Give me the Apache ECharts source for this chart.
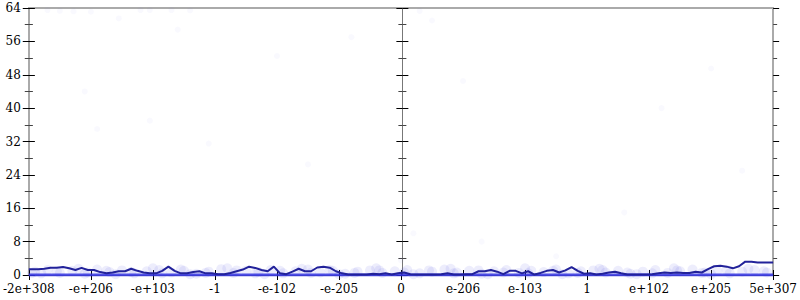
<!DOCTYPE html>
<html>
<head>
<meta charset="utf-8">
<script src="https://cdn.jsdelivr.net/npm/echarts@6/dist/echarts.min.js"></script>
<style>html,body{margin:0;padding:0;background:#fff}#c{width:800px;height:300px}</style>
</head>
<body>
<div id="c"></div>
<script>
// X tick labels (12 equal segments of the symmetric float axis)
const tickLabels = ['-2e+308','-e+206','-e+103','-1','-e-102','-e-205','0','e-206','e-103','1','e+102','e+205','5e+307'];
// Y axis ticks
const yMin = 0, yMax = 64, yStep = 8;
// Line counts per bin (120 bins across the axis)
const binCounts = [
 1.4,1.4,1.5,1.75,1.75,1.9,1.6,1.2,1.7,1.2,
 1.2,0.7,0.4,0.6,0.9,0.9,1.5,1.0,0.6,0.4,
 0.4,1.0,2.0,1.0,0.4,0.4,0.7,0.9,0.4,0.4,
 0.2,0.2,0.5,0.9,1.3,2.0,1.7,1.2,0.9,2.0,
 0.4,0.2,0.8,1.5,0.9,0.9,1.8,2.0,1.75,0.9,
 0.4,0.1,0.1,0.1,0.1,0.3,0.2,0.4,0.1,0.4,
 0.6,0.2,0.1,0.1,0.1,0.1,0.2,0.4,0.1,0.1,
 0.2,0.2,0.9,0.9,1.2,0.8,0.2,1.0,1.0,0.4,
 0.9,0.1,0.5,1.0,1.2,0.6,1.1,1.9,1.0,0.3,
 0.4,0.1,0.3,0.6,0.8,0.4,0.1,0.1,0.1,0.1,
 0.2,0.4,0.6,0.5,0.6,0.5,0.5,0.8,0.6,1.4,
 2.1,2.2,2.0,1.6,2.1,3.2,3.2,3.0,3.0,3.0
];
// Many samples sitting at zero
const zeroRun = [[0,0],[12,0]];
// Faint individual samples near the floor
const lowSamples = [
 [0.1,0.8],[0.3,1.2],[0.5,0.5],[0.7,1.0],[0.9,0.3],[1.1,1.3],[1.3,0.7],[1.5,1.1],[1.7,0.4],[1.9,0.9],
 [2.1,1.2],[2.3,0.6],[2.5,1.0],[2.7,0.3],[2.9,0.8],[3.1,1.4],[3.3,0.5],[3.5,1.0],[3.7,0.7],[3.9,1.2],
 [4.1,0.4],[4.3,0.9],[4.5,1.3],[4.7,0.6],[4.9,1.0],[5.1,0.3],[5.3,0.8],[5.5,1.1],[5.7,0.5],[5.9,0.9],
 [6.1,1.2],[6.3,0.4],[6.5,0.8],[6.7,1.3],[6.9,0.6],[7.1,1.0],[7.3,0.3],[7.5,0.9],[7.7,1.2],[7.9,0.5],
 [8.1,1.0],[8.3,0.7],[8.5,1.3],[8.7,0.4],[8.9,0.9],[9.1,1.1],[9.3,0.6],[9.5,1.0],[9.7,0.3],[9.9,0.8],
 [10.1,1.2],[10.3,0.5],[10.5,0.9],[10.7,1.3],[10.9,0.6],[11.1,1.0],[11.3,0.4],[11.5,0.8],[11.7,1.2],[11.9,0.6],
 [0.2,0.4],[0.8,1.5],[1.4,0.2],[2.0,1.6],[2.6,0.2],[3.2,1.6],[3.8,0.2],[4.4,1.5],[5.0,0.2],[5.6,1.6],
 [6.2,0.2],[6.8,1.5],[7.4,0.2],[8.0,1.6],[8.6,0.2],[9.2,1.5],[9.8,0.2],[10.4,1.6],[11.0,0.2],[11.6,1.5],
 [0.05,0.5],[0.45,0.9],[0.95,0.6],[1.25,1.0],[1.65,0.7],[2.15,0.4],[2.45,1.3],[2.85,0.5],[3.35,1.1],[3.65,0.4],
 [4.05,1.0],[4.55,0.5],[4.85,1.2],[5.25,0.5],[5.65,1.1],[6.05,0.6],[6.45,1.1],[6.85,0.4],[7.25,1.1],[7.65,0.6],
 [8.05,0.4],[8.45,1.0],[8.85,0.5],[9.25,1.2],[9.65,0.6],[10.05,0.4],[10.45,1.1],[10.85,0.5],[11.25,1.2],[11.85,0.9]
];
// Very faint outliers higher up
const highSamples = [
 [0.3,63.5],[0.5,63.3],[0.72,63.2],[1.0,63.1],[1.45,61.5],[1.8,63.5],[1.95,63.5],[2.3,63.5],[2.4,58.8],[2.6,63.4],
 [0.9,44.0],[1.1,35.0],[1.95,37.0],[2.9,31.5],[4.5,26.5],[6.3,63.3],[6.5,61.0],[7.0,46.5],[7.3,8.0],[11.0,49.5],
 [4.0,52.5],[5.2,57.0],[6.2,10.0],[6.0,3.5],[8.5,4.5],[9.6,15.0],[10.2,40.0],[11.5,25.0]
];

const binW = 12 / binCounts.length;
const lineData = binCounts.map((v, i) => [i * binW + binW / 2, v]);
lineData.unshift([0, binCounts[0]]);
lineData.push([12, binCounts[binCounts.length - 1]]);

const font = {fontFamily: 'DejaVu Serif', fontSize: 12, color: '#000'};
const grey = {color: '#aaaaaa', width: 2};

function yAx(opts) {
  return Object.assign({
    type: 'value', min: yMin, max: yMax, interval: yStep, position: 'left',
    splitLine: {show: false},
    axisLine: {show: false},
    axisLabel: {show: false},
    axisTick: {show: true, inside: false, length: 6, lineStyle: {color: '#000', width: 1}},
    minorTick: {show: true, splitNumber: 2, length: 4, lineStyle: {color: '#444', width: 1}},
  }, opts);
}
const inTick = {axisTick: {show: true, inside: true, length: 6, lineStyle: {color: '#000'}}, minorTick: {show: true, splitNumber: 2, length: 4, lineStyle: {color: '#444'}}};

const chart = echarts.init(document.getElementById('c'), null, {renderer: 'svg'});
chart.setOption({
  animation: false,
  textStyle: {fontFamily: 'DejaVu Serif'},
  grid: {left: 27, right: 26, top: 8, bottom: 25, containLabel: false},
  xAxis: [
    {type: 'value', min: 0, max: 12, interval: 1, position: 'bottom',
     splitLine: {show: false},
     axisLine: {show: true, onZero: false, lineStyle: {color: '#888', width: 1}},
     axisTick: {show: true, inside: false, length: 5, lineStyle: {color: '#000'}},
     axisLabel: Object.assign({margin: 8, formatter: v => tickLabels[Math.round(v)]}, font)},
    {type: 'value', min: 0, max: 12, interval: 1, position: 'bottom',
     splitLine: {show: false}, axisLine: {show: false, onZero: false},
     axisTick: {show: true, inside: true, length: 5, lineStyle: {color: '#000'}},
     axisLabel: {show: false}},
    {type: 'value', min: 0, max: 12, interval: 1, position: 'top',
     splitLine: {show: false}, axisLine: {show: true, onZero: false, lineStyle: grey},
     axisTick: {show: false}, axisLabel: {show: false}}
  ],
  yAxis: [
    yAx({axisLine: {show: true, onZero: false, lineStyle: grey}, axisLabel: Object.assign({show: true, margin: 8}, font)}),
    yAx(inTick),
    yAx({offset: -373.5, axisLine: {show: true, onZero: false, lineStyle: {color: '#777', width: 1}}}),
    yAx(Object.assign({offset: -373.5}, inTick)),
    yAx({position: 'right', axisLine: {show: true, onZero: false, lineStyle: grey}}),
    yAx(Object.assign({position: 'right'}, inTick))
  ],
  series: [
    {type: 'scatter', name: 'high', data: highSamples, symbolSize: 6, silent: true,
     itemStyle: {color: '#6060e8', opacity: 0.04}},
    {type: 'scatter', name: 'low', data: lowSamples, symbolSize: 10, silent: true,
     itemStyle: {color: '#5a5ae6', opacity: 0.11}},
    {type: 'line', name: 'zero', data: zeroRun, symbol: 'none', silent: true,
     lineStyle: {color: '#3030e0', width: 3, opacity: 0.85}},
    {type: 'line', name: 'counts', data: lineData, symbol: 'none', silent: true,
     lineStyle: {color: '#22229a', width: 2}}
  ]
});
</script>
</body>
</html>
